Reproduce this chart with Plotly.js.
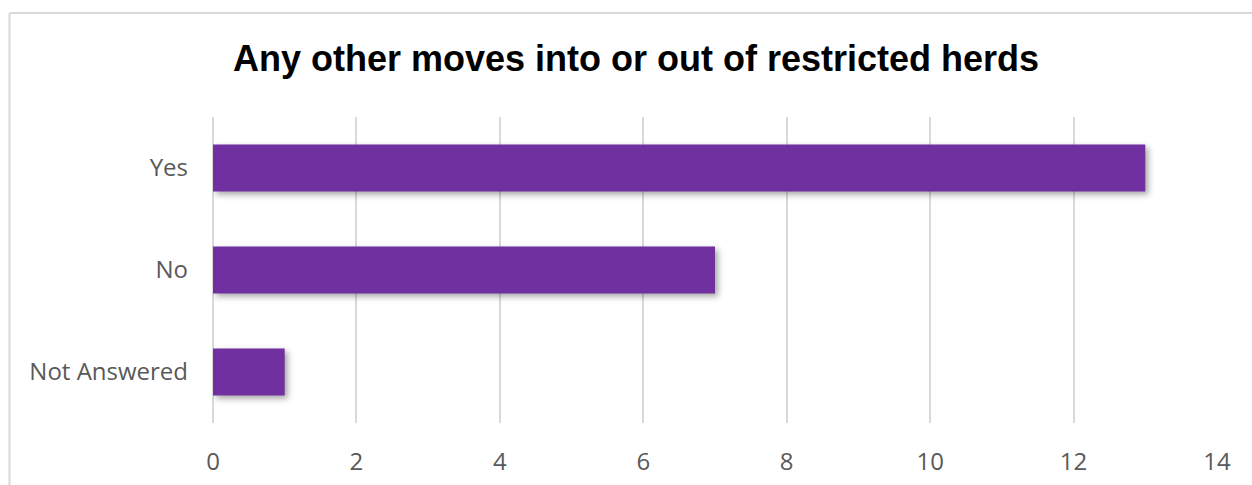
<!DOCTYPE html>
<html>
<head>
<meta charset="utf-8">
<script src="https://cdn.plot.ly/plotly-3.0.1.min.js"></script>
<style>
html,body{margin:0;padding:0;background:#fff;}
#chart{width:1252px;height:485px;}
.trace.bars path{filter:drop-shadow(3px 3px 3px rgba(0,0,0,0.35));}
</style>
</head>
<body>
<div id="chart"></div>
<script>
const categories = ["Yes", "No", "Not Answered"];
const counts = [13, 7, 1];
const xTicks = [0, 2, 4, 6, 8, 10, 12, 14];
const chartTitle = "Any other moves into or out of restricted herds";

const ML = 213, MR = 35, MT = 117, MB = 62, W = 1252, H = 485;
const pw = W - ML - MR, ph = H - MT - MB;
const fx = px => (px - ML) / pw;
const fy = py => (H - MB - py) / ph;

const trace = {
  type: 'bar',
  orientation: 'h',
  y: categories,
  x: counts,
  marker: {color: '#7030A0'},
  hoverinfo: 'x+y'
};

const layout = {
  width: W, height: H,
  margin: {l: ML, r: MR, t: MT, b: MB, pad: 0},
  paper_bgcolor: '#ffffff',
  plot_bgcolor: '#ffffff',
  showlegend: false,
  bargap: 0.54,
  title: {
    text: '<b>' + chartTitle + '</b>',
    font: {family: 'Liberation Sans, Arial, sans-serif', size: 36, color: '#000000'},
    x: 636 / W, xanchor: 'center', xref: 'container',
    y: 1 - 58 / H, yanchor: 'middle', yref: 'container'
  },
  xaxis: {
    range: [0, 14],
    tickvals: xTicks,
    ticktext: xTicks.map(String),
    showgrid: true, gridcolor: '#d9d9d9', gridwidth: 1.5,
    zeroline: true, zerolinecolor: '#d9d9d9', zerolinewidth: 1.5,
    showline: false,
    ticks: '', ticklabelstandoff: 22,
    tickfont: {family: 'Open Sans, sans-serif', size: 24, color: '#595959'},
    fixedrange: true
  },
  yaxis: {
    autorange: 'reversed',
    type: 'category',
    showgrid: false, zeroline: false, showline: false,
    ticks: '', ticklabelstandoff: 24,
    tickfont: {family: 'Open Sans, sans-serif', size: 24, color: '#595959'},
    fixedrange: true
  },
  shapes: [
    {type: 'line', xref: 'paper', yref: 'paper', x0: fx(9.5), x1: fx(9.5), y0: fy(13), y1: fy(500), line: {color: '#d9d9d9', width: 2}},
    {type: 'line', xref: 'paper', yref: 'paper', x0: fx(9.5), x1: fx(1260), y0: fy(13), y1: fy(13), line: {color: '#d9d9d9', width: 2}}
  ]
};

Plotly.newPlot('chart', [trace], layout, {displayModeBar: false, responsive: false});
</script>
</body>
</html>
